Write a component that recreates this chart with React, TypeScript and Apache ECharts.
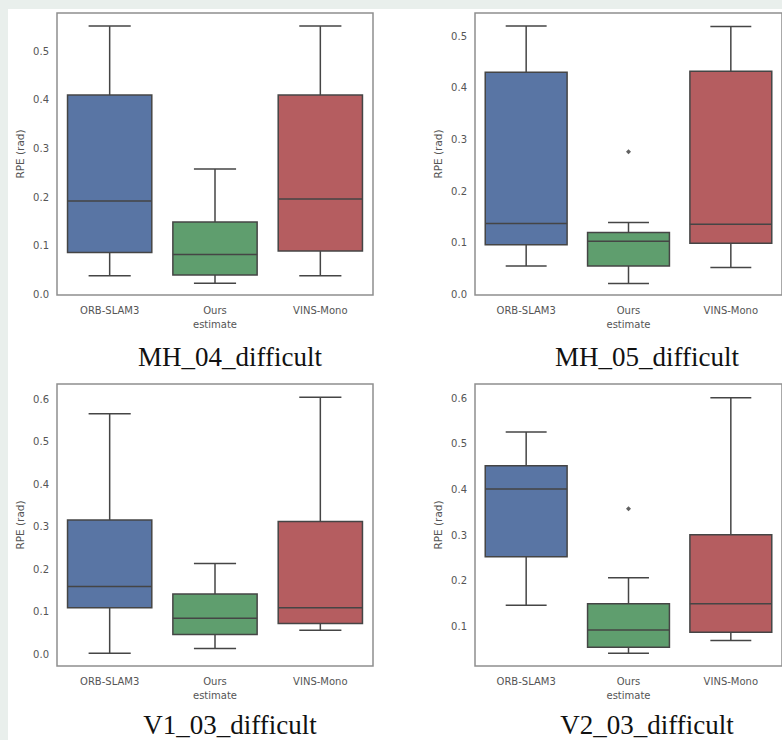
import React, { useEffect, useRef } from "react";
import * as echarts from "echarts";

// ---- data ----
const categories = ["ORB-SLAM3", "Ours\nestimate", "VINS-Mono"];
const titles = ["MH_04_difficult", "MH_05_difficult", "V1_03_difficult", "V2_03_difficult"];

// [lower whisker, Q1, median, Q3, upper whisker]
const mh04Orb = [0.038, 0.086, 0.192, 0.41, 0.552];
const mh04Ours = [0.023, 0.04, 0.082, 0.149, 0.258];
const mh04Vins = [0.038, 0.089, 0.196, 0.41, 0.552];
const mh04Outliers: number[][] = [];

const mh05Orb = [0.055, 0.096, 0.137, 0.43, 0.52];
const mh05Ours = [0.021, 0.055, 0.103, 0.12, 0.139];
const mh05Vins = [0.052, 0.099, 0.136, 0.432, 0.519];
const mh05Outliers = [[1, 0.276]];

const v103Orb = [0.003, 0.11, 0.16, 0.316, 0.566];
const v103Ours = [0.014, 0.047, 0.085, 0.142, 0.214];
const v103Vins = [0.057, 0.073, 0.11, 0.313, 0.605];
const v103Outliers: number[][] = [];

const v203Orb = [0.147, 0.253, 0.401, 0.452, 0.526];
const v203Ours = [0.042, 0.055, 0.093, 0.15, 0.207];
const v203Vins = [0.07, 0.088, 0.15, 0.301, 0.601];
const v203Outliers = [[1, 0.358]];

const ticksTop1 = [0, 0.1, 0.2, 0.3, 0.4, 0.5];
const ticksTop2 = [0, 0.1, 0.2, 0.3, 0.4, 0.5];
const ticksBottom1 = [0, 0.1, 0.2, 0.3, 0.4, 0.5, 0.6];
const ticksBottom2 = [0.1, 0.2, 0.3, 0.4, 0.5, 0.6];

const boxColors = ["#5975a4", "#5f9e6e", "#b55d60"];
const lineColor = "#454545";

const panels = [
  { title: titles[0], boxes: [mh04Orb, mh04Ours, mh04Vins], outliers: mh04Outliers, ticks: ticksTop1, min: -0.0014, max: 0.579, left: 57, top: 13, width: 316, height: 282, tx: 230, ty: 357 },
  { title: titles[1], boxes: [mh05Orb, mh05Ours, mh05Vins], outliers: mh05Outliers, ticks: ticksTop2, min: -0.0013, max: 0.545, left: 475, top: 13, width: 315, height: 282, tx: 647, ty: 357 },
  { title: titles[2], boxes: [v103Orb, v103Ours, v103Vins], outliers: v103Outliers, ticks: ticksBottom1, min: -0.027, max: 0.636, left: 57, top: 384, width: 316, height: 282, tx: 230, ty: 725 },
  { title: titles[3], boxes: [v203Orb, v203Ours, v203Vins], outliers: v203Outliers, ticks: ticksBottom2, min: 0.014, max: 0.631, left: 475, top: 384, width: 315, height: 282, tx: 647, ty: 725 },
];

function renderBox(params: any, api: any) {
  const x = api.value(0);
  const lo = api.coord([x, api.value(1)]);
  const q1 = api.coord([x, api.value(2)]);
  const med = api.coord([x, api.value(3)]);
  const q3 = api.coord([x, api.value(4)]);
  const hi = api.coord([x, api.value(5)]);
  const band = api.size([1, 0])[0];
  const bw = band * 0.8;
  const cw = bw * 0.5;
  const cx = lo[0];
  const ls = { stroke: lineColor, lineWidth: 1.5 };
  return {
    type: "group",
    children: [
      { type: "line", shape: { x1: cx, y1: lo[1], x2: cx, y2: q1[1] }, style: ls },
      { type: "line", shape: { x1: cx, y1: q3[1], x2: cx, y2: hi[1] }, style: ls },
      { type: "line", shape: { x1: cx - cw / 2, y1: lo[1], x2: cx + cw / 2, y2: lo[1] }, style: ls },
      { type: "line", shape: { x1: cx - cw / 2, y1: hi[1], x2: cx + cw / 2, y2: hi[1] }, style: ls },
      {
        type: "rect",
        shape: { x: cx - bw / 2, y: q3[1], width: bw, height: q1[1] - q3[1] },
        style: { fill: boxColors[x], stroke: lineColor, lineWidth: 1.5 },
      },
      { type: "line", shape: { x1: cx - bw / 2, y1: med[1], x2: cx + bw / 2, y2: med[1] }, style: ls },
    ],
  };
}

export default function App() {
  const ref = useRef<HTMLDivElement>(null);
  useEffect(() => {
    if (!ref.current) return;
    const chart = echarts.init(ref.current, undefined, { renderer: "svg" });
    const labelStyle = { color: "#555", fontFamily: "DejaVu Sans", fontSize: 10 };
    const option: any = {
      animation: false,
      backgroundColor: "#e9efec",
      graphic: [
        { type: "rect", z: -10, shape: { x: 8, y: 9, width: 774, height: 731 }, style: { fill: "#ffffff" } },
        ...panels.map((p) => ({
          type: "text",
          x: p.tx,
          y: p.ty,
          style: {
            text: p.title,
            fill: "#111",
            font: '27px "Liberation Serif", "Times New Roman", serif',
            align: "center",
            verticalAlign: "middle",
          },
        })),
      ],
      grid: panels.map((p) => ({
        left: p.left,
        top: p.top,
        width: p.width,
        height: p.height,
        show: true,
        backgroundColor: "#ffffff",
        borderColor: "#8f8f8f",
        borderWidth: 1.5,
        containLabel: false,
      })),
      xAxis: panels.map((p, i) => ({
        type: "category",
        gridIndex: i,
        data: categories,
        boundaryGap: true,
        axisLine: { show: false },
        axisTick: { show: false },
        splitLine: { show: false },
        axisLabel: { ...labelStyle, margin: 8, lineHeight: 14, interval: 0 },
      })),
      yAxis: panels.map((p, i) => ({
        type: "value",
        gridIndex: i,
        min: p.min,
        max: p.max,
        name: "RPE (rad)",
        nameLocation: "middle",
        nameGap: 32,
        nameTextStyle: { color: "#555", fontFamily: "DejaVu Sans", fontSize: 10.5 },
        axisLine: { show: false },
        axisTick: { show: false },
        splitLine: { show: false },
        axisLabel: {
          ...labelStyle,
          margin: 8,
          customValues: p.ticks,
          formatter: (v: number) => v.toFixed(1),
        },
      })),
      series: [
        ...panels.map((p, i) => ({
          type: "custom",
          xAxisIndex: i,
          yAxisIndex: i,
          renderItem: renderBox,
          encode: { x: 0, y: [1, 2, 3, 4, 5] },
          data: p.boxes.map((b, k) => [k, ...b]),
          clip: false,
        })),
        ...panels.map((p, i) => ({
          type: "scatter",
          xAxisIndex: i,
          yAxisIndex: i,
          symbol: "diamond",
          symbolSize: 5,
          itemStyle: { color: "#3a3a3a" },
          data: p.outliers,
        })),
      ],
    };
    chart.setOption(option);
    return () => chart.dispose();
  }, []);
  return (
    <div
      ref={ref}
      style={{ position: "fixed", left: 0, top: 0, width: 782, height: 740 }}
    />
  );
}
